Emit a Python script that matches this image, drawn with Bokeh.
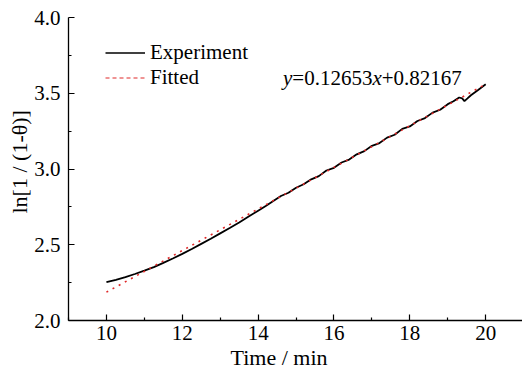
import math
from bokeh.plotting import figure
from bokeh.models import (ColumnDataSource, Legend, LegendItem, Label, Title,
                          FixedTicker, PrintfTickFormatter, Range1d)
from bokeh.embed import file_html
from bokeh.resources import INLINE

# ---------------- data ----------------
exp_time = [10.00, 10.25, 10.50, 10.75, 11.00, 11.25, 11.50, 11.75, 12.00,
            12.25, 12.50, 12.75, 13.00, 13.25, 13.50, 13.75, 14.00, 14.20,
            14.40, 14.60, 14.80, 15.00, 15.20, 15.40, 15.60, 15.80, 16.00,
            16.20, 16.40, 16.60, 16.80, 17.00, 17.20, 17.40, 17.60, 17.80,
            18.00, 18.20, 18.40, 18.60, 18.80, 19.00, 19.15, 19.30, 19.38,
            19.44, 19.52, 19.61, 19.80, 20.00]
exp_value = [2.253, 2.268, 2.287, 2.307, 2.329, 2.352, 2.380, 2.409, 2.440,
             2.472, 2.506, 2.540, 2.575, 2.610, 2.647, 2.686, 2.725, 2.756,
             2.789, 2.822, 2.843, 2.876, 2.899, 2.932, 2.953, 2.990, 3.008,
             3.043, 3.062, 3.097, 3.118, 3.153, 3.171, 3.207, 3.226, 3.265,
             3.281, 3.317, 3.336, 3.372, 3.391, 3.428, 3.447, 3.472, 3.466,
             3.448, 3.466, 3.487, 3.522, 3.560]

fit_time = [10.0, 20.0]
fit_value = [2.187, 3.560]

x_ticks = [10, 12, 14, 16, 18, 20]
x_minor = [9, 11, 13, 15, 17, 19, 21]
y_ticks = [2.0, 2.5, 3.0, 3.5, 4.0]
y_minor = [2.25, 2.75, 3.25, 3.75]

series_labels = ["Experiment", "Fitted"]
equation_parts = [("y", "italic"), ("=0.12653", "normal"),
                  ("x", "italic"), ("+0.82167", "normal")]
ylabel_text = "ln[1 / (1-\u03b8)]"
xlabel_text = "Time / min"

FONT = "Liberation Serif"

# ---------------- figure ----------------
p = figure(width=522, height=369, output_backend="svg", toolbar_location=None,
           x_range=Range1d(9, 20.97), y_range=Range1d(2.0, 4.0),
           min_border_left=68, min_border_right=0, min_border_top=17,
           min_border_bottom=49)
p.grid.visible = False
p.outline_line_color = None
p.background_fill_color = "white"
p.border_fill_color = "white"

exp_src = ColumnDataSource(dict(x=exp_time, y=exp_value))
fit_src = ColumnDataSource(dict(x=fit_time, y=fit_value))

p.line("x", "y", source=exp_src, line_color="black", line_width=1.8)
p.line("x", "y", source=fit_src, line_color="#e02828", line_width=1.6,
       line_dash="2 5")

# legend with dedicated sample renderers (no visible data)
blank = ColumnDataSource(dict(x=[float("nan")], y=[float("nan")]))
r_leg1 = p.line("x", "y", source=blank, line_color="black", line_width=1.3)
r_leg2 = p.line("x", "y", source=blank, line_color="#e02828", line_width=1.2,
                line_dash="4 3")
legend = Legend(items=[LegendItem(label=series_labels[0], renderers=[r_leg1]),
                       LegendItem(label=series_labels[1], renderers=[r_leg2])],
                location=(37, 230), orientation="vertical")
legend.label_text_font = FONT
legend.label_text_font_size = "21px"
legend.label_text_color = "black"
legend.glyph_width = 40
legend.glyph_height = 21
legend.label_height = 21
legend.label_standoff = 5
legend.spacing = 0
legend.padding = 0
legend.margin = 0
legend.border_line_color = None
legend.background_fill_alpha = 0
p.add_layout(legend, "center")

# axes
for ax in (p.xaxis[0], p.yaxis[0]):
    ax.axis_line_color = "black"
    ax.axis_line_width = 1.3
    ax.major_tick_line_color = "black"
    ax.minor_tick_line_color = "black"
    ax.major_tick_line_width = 1.2
    ax.minor_tick_line_width = 1.2
    ax.major_tick_in = 6
    ax.major_tick_out = 0
    ax.minor_tick_in = 3
    ax.minor_tick_out = 0
    ax.major_label_text_font = FONT
    ax.major_label_text_font_size = "21px"
    ax.major_label_text_color = "black"

p.xaxis[0].ticker = FixedTicker(ticks=x_ticks, minor_ticks=x_minor)
p.yaxis[0].ticker = FixedTicker(ticks=y_ticks, minor_ticks=y_minor)
p.yaxis[0].formatter = PrintfTickFormatter(format="%.1f")
p.xaxis[0].major_label_standoff = 5
p.yaxis[0].major_label_standoff = 8

# axis titles as side titles (allow offset from the frame edge)
p.add_layout(Title(text=xlabel_text, align="left", offset=162,
                   text_font=FONT, text_font_size="22px",
                   text_font_style="normal", text_color="black",
                   standoff=0), "below")
p.add_layout(Title(text=ylabel_text, align="left", offset=107,
                   text_font=FONT, text_font_size="22px",
                   text_font_style="normal", text_color="black",
                   standoff=0), "left")


def text_width(s, size):
    # approximate Times advance widths (em units)
    w = {"=": .564, "+": .564, ".": .25, "x": .444, "y": .444}
    return sum(w.get(c, .5) for c in s) * size


# equation (mixed italic)
eq_size = 21
cx = 214.5
for txt, style in equation_parts:
    p.add_layout(Label(x=cx, y=243, x_units="screen", y_units="screen", text=txt,
                       text_font=FONT, text_font_style=style,
                       text_font_size=f"{eq_size}px", text_color="black",
                       text_align="left", text_baseline="alphabetic"))
    cx += text_width(txt, eq_size)

open("out.html", "w").write(file_html(p, INLINE))
